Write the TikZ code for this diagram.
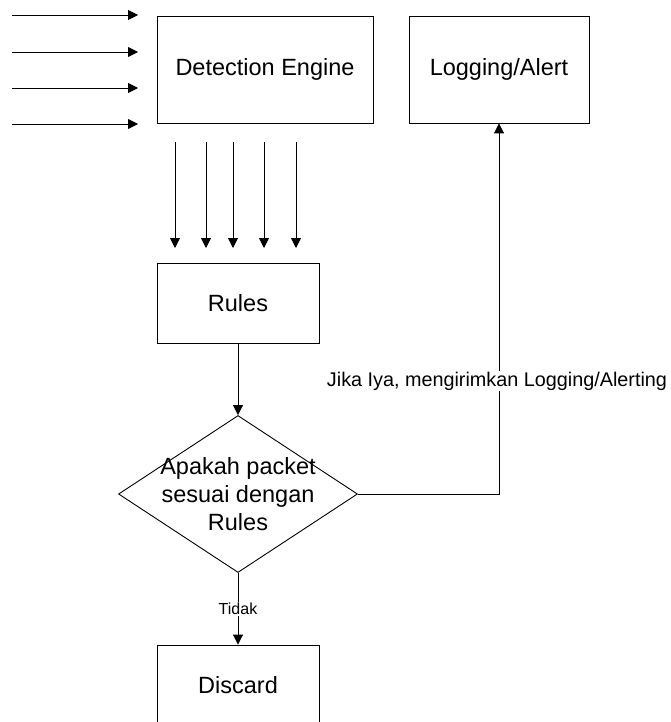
\documentclass[tikz,border=0pt]{standalone}
\usepackage{fontspec}
\setmainfont{Liberation Sans}
\usetikzlibrary{arrows.meta,shapes.geometric}
\begin{document}
\begin{tikzpicture}[x=1pt,y=-1pt,
  box/.style={draw, line width=0.9pt, rectangle, inner sep=0pt, align=center, font=\fontsize{23.5}{28}\selectfont},
  arr/.style={line width=0.9pt, -{Triangle[length=10pt,width=10pt]}},
  ln/.style={line width=0.9pt},
  lbl/.style={fill=white, inner sep=1pt}]
\useasboundingbox[fill=white] (0,0) rectangle (671,722);

\node[box, minimum width=216pt, minimum height=107pt] (det) at (265,69.5) {Detection Engine};
\node[box, minimum width=180pt, minimum height=107pt] (log) at (499,69.5) {Logging/Alert};
\node[box, minimum width=162pt, minimum height=80pt] (rules) at (238,303) {Rules};
\node[draw, line width=0.9pt, shape=diamond, minimum width=239pt, minimum height=157pt, inner sep=0pt] (dec) at (238,494) {};
\node[align=center, font=\fontsize{23.5}{28}\selectfont, inner sep=0pt] (dectext) at (dec.center) {Apakah packet\\sesuai dengan\\Rules};
\node[box, minimum width=162pt, minimum height=80pt] (dis) at (238,685) {Discard};

% incoming arrows on the left
\foreach \i/\y in {1/15,2/52,3/88,4/124}{
  \coordinate (ls\i) at (12,\y);
  \coordinate (le\i) at (138,\y);
  \draw[arr] (ls\i) -- (le\i);
}
% arrows down to Rules
\foreach \i/\x in {1/175,2/206,3/233,4/264,5/296}{
  \coordinate (vs\i) at (\x,142);
  \coordinate (ve\i) at (\x,248);
  \draw[arr] (vs\i) -- (ve\i);
}

\draw[arr] (rules.south) -- (dec.north);
\draw[arr] (dec.south) -- node[lbl, font=\fontsize{16}{18}\selectfont] (tidak) {Tidak} (dis.north);
\draw[arr] (dec.east) -| (log.south);
\node[lbl, font=\fontsize{19.8}{22}\selectfont] (jika) at (497,381) {Jika Iya, mengirimkan Logging/Alerting};
\end{tikzpicture}
\end{document}
